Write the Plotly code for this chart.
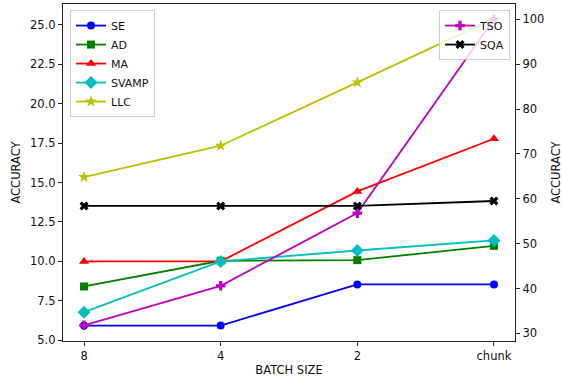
import plotly.graph_objects as go

batch_sizes = ["8", "4", "2", "chunk"]

se = [5.93, 5.93, 8.54, 8.54]
ad = [8.41, 10.04, 10.08, 10.99]
ma = [10.0, 10.0, 14.44, 17.78]
svamp = [6.78, 10.0, 10.69, 11.33]
llc = [15.35, 17.34, 21.36, 25.4]

tso = [31.8, 40.6, 56.8, 100.0]
sqa = [58.4, 58.4, 58.4, 59.5]

left_series = [
    ("SE", se, "#0000ff", "circle", 8),
    ("AD", ad, "#008000", "square", 8),
    ("MA", ma, "#ff0000", "triangle-up", 9),
    ("SVAMP", svamp, "#00bfbf", "diamond", 10),
    ("LLC", llc, "#bfbf00", "star", 9),
]
right_series = [
    ("TSO", tso, "#bf00bf", "cross", 8),
    ("SQA", sqa, "#000000", "x", 8),
]

FONT = "DejaVu Sans"
fs = 11.5
lfs = 11

fig = go.Figure()
for name, vals, color, sym, ms in left_series:
    fig.add_trace(go.Scatter(
        x=list(range(len(batch_sizes))), y=vals, name=name, mode="lines+markers",
        line=dict(color=color, width=1.8),
        marker=dict(symbol=sym, size=ms, color=color, line=dict(width=0)),
        yaxis="y", legend="legend",
    ))
for name, vals, color, sym, ms in right_series:
    fig.add_trace(go.Scatter(
        x=list(range(len(batch_sizes))), y=vals, name=name, mode="lines+markers",
        line=dict(color=color, width=1.8),
        marker=dict(symbol=sym, size=ms, color=color, line=dict(width=0)),
        yaxis="y2", legend="legend2",
    ))

axis_common = dict(
    showline=True, linecolor="#222", linewidth=1.2,
    ticks="outside", ticklen=4, tickwidth=1, tickcolor="#222",
    showgrid=False, zeroline=False, automargin=False,
    tickfont=dict(family=FONT, size=fs, color="#111"),
)

fig.update_layout(
    width=563, height=382,
    margin=dict(l=63, r=48, t=4, b=41),
    paper_bgcolor="white", plot_bgcolor="white",
    font=dict(family=FONT, size=fs, color="#111"),
    xaxis=dict(
        **axis_common, mirror=True,
        tickmode="array", tickvals=list(range(len(batch_sizes))), ticktext=batch_sizes,
        range=[-0.154, 3.154],
        title=dict(text="BATCH SIZE", font=dict(family=FONT, size=fs), standoff=4),
    ),
    yaxis=dict(
        **axis_common,
        range=[4.95, 26.33], tickmode="array",
        tickvals=[5, 7.5, 10, 12.5, 15, 17.5, 20, 22.5, 25],
        ticktext=["5.0", "7.5", "10.0", "12.5", "15.0", "17.5", "20.0", "22.5", "25.0"],
        title=dict(text="ACCURACY", font=dict(family=FONT, size=fs), standoff=6),
    ),
    yaxis2=dict(
        **axis_common,
        overlaying="y", side="right", anchor="x",
        range=[28.3, 103.4], tickmode="array",
        tickvals=[30, 40, 50, 60, 70, 80, 90, 100],
        title=dict(text="ACCURACY", font=dict(family=FONT, size=fs), standoff=11),
    ),
    legend=dict(
        x=0.0155, y=0.982, xanchor="left", yanchor="top",
        bgcolor="rgba(255,255,255,0.8)", bordercolor="#cccccc", borderwidth=1,
        font=dict(family=FONT, size=lfs), tracegroupgap=0, itemwidth=30,
    ),
    legend2=dict(
        x=0.989, y=0.982, xanchor="right", yanchor="top",
        bgcolor="rgba(255,255,255,0.8)", bordercolor="#cccccc", borderwidth=1,
        font=dict(family=FONT, size=lfs), tracegroupgap=0, itemwidth=30,
    ),
)

fig.write_html(
    "out.html",
    config={"displayModeBar": False},
    post_script="document.body.style.margin='0px';",
)
